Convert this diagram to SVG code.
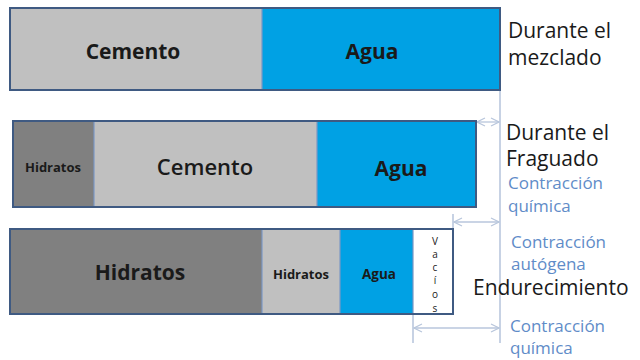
<svg xmlns="http://www.w3.org/2000/svg" width="640" height="360" viewBox="0 0 640 360">
<defs>
<marker id="ah" markerWidth="10" markerHeight="10" refX="9" refY="5" orient="auto-start-reverse" markerUnits="userSpaceOnUse">
<path d="M1,1 L9,5 L1,9" fill="none" stroke="#b8c6dc" stroke-width="1.2"/>
</marker>
</defs>
<style>
.frame{fill:none;stroke:#3f5a82;stroke-width:2}
.div{stroke:#7b97c4;stroke-width:1.2}
.lg{fill:#c0c0c0}
.dg{fill:#808080}
.bl{fill:#00a1e4}
.wh{fill:#ffffff}
.t{font-family:"Open Sans","Liberation Sans",sans-serif;fill:#1a1a1a;text-anchor:middle}
.b{font-weight:bold}
.side{font-family:"Open Sans","Liberation Sans",sans-serif;fill:#1a1a1a;font-size:21px}
.blue{font-family:"Open Sans","Liberation Sans",sans-serif;fill:#5f8cc8;font-size:17px}
.conn{stroke:#b8c6dc;stroke-width:1.3;fill:none}
.tick{stroke:#a9bad6;stroke-width:1.3}
</style>
<g id="connectors">
<line class="tick" x1="500" y1="90" x2="500" y2="343"/>
<line class="tick" x1="453" y1="214" x2="453" y2="229"/>
<line class="tick" x1="413" y1="314" x2="413" y2="343"/>
<path class="conn" d="M477,122 L499,122" marker-start="url(#ah)" marker-end="url(#ah)"/>
<path class="conn" d="M454,222 L499,222" marker-start="url(#ah)" marker-end="url(#ah)"/>
<path class="conn" d="M414,328 L499,328" marker-start="url(#ah)" marker-end="url(#ah)"/>
</g>
<g id="bar-mezclado">
<rect class="lg" x="10" y="8" width="252" height="82"/>
<rect class="bl" x="262" y="8" width="238" height="82"/>
<line class="div" x1="262" y1="8" x2="262" y2="90"/>
<rect class="frame" x="10" y="8" width="490" height="82"/>
<text class="t b" x="133" y="59" font-size="21">Cemento</text>
<text class="t b" x="372" y="59" font-size="21" fill="#0a2540">Agua</text>
</g>
<g id="bar-fraguado">
<rect class="dg" x="13" y="121" width="81" height="86"/>
<rect class="lg" x="94" y="121" width="223" height="86"/>
<rect class="bl" x="317" y="121" width="159" height="86"/>
<line class="div" x1="94" y1="121" x2="94" y2="207"/>
<line class="div" x1="317" y1="121" x2="317" y2="207"/>
<rect class="frame" x="13" y="121" width="463" height="86"/>
<text class="t b" x="53" y="172" font-size="13">Hidratos</text>
<text class="t" x="205" y="175" font-size="22" font-weight="600">Cemento</text>
<text class="t b" x="401" y="176" font-size="21">Agua</text>
</g>
<g id="bar-endurecimiento">
<rect class="dg" x="10" y="229" width="252" height="85"/>
<rect class="lg" x="262" y="229" width="78" height="85"/>
<rect class="bl" x="340" y="229" width="73" height="85"/>
<rect class="wh" x="413" y="229" width="40" height="85"/>
<line class="div" x1="262" y1="229" x2="262" y2="314"/>
<line class="div" x1="340" y1="229" x2="340" y2="314"/>
<line class="div" x1="413" y1="229" x2="413" y2="314"/>
<rect class="frame" x="10" y="229" width="443" height="85"/>
<text class="t b" x="140" y="280" font-size="21">Hidratos</text>
<text class="t b" x="301" y="279" font-size="13">Hidratos</text>
<text class="t b" x="379" y="279" font-size="13.5">Agua</text>
<g class="t" font-size="10" fill="#333">
<text x="435" y="245">V</text>
<text x="435" y="258">a</text>
<text x="435" y="271">c</text>
<text x="435" y="284">í</text>
<text x="435" y="298">o</text>
<text x="435" y="312">s</text>
</g>
</g>
<g id="labels">
<text class="side" x="508" y="38">Durante el</text>
<text class="side" x="508" y="65">mezclado</text>
<text class="side" x="506" y="140">Durante el</text>
<text class="side" x="506" y="166">Fraguado</text>
<text class="blue" x="508" y="189">Contracción</text>
<text class="blue" x="508" y="212">química</text>
<text class="blue" x="511" y="248">Contracción</text>
<text class="blue" x="511" y="270">autógena</text>
<text class="side" x="473" y="295">Endurecimiento</text>
<text class="blue" x="510" y="332">Contracción</text>
<text class="blue" x="510" y="354">química</text>
</g>
</svg>
